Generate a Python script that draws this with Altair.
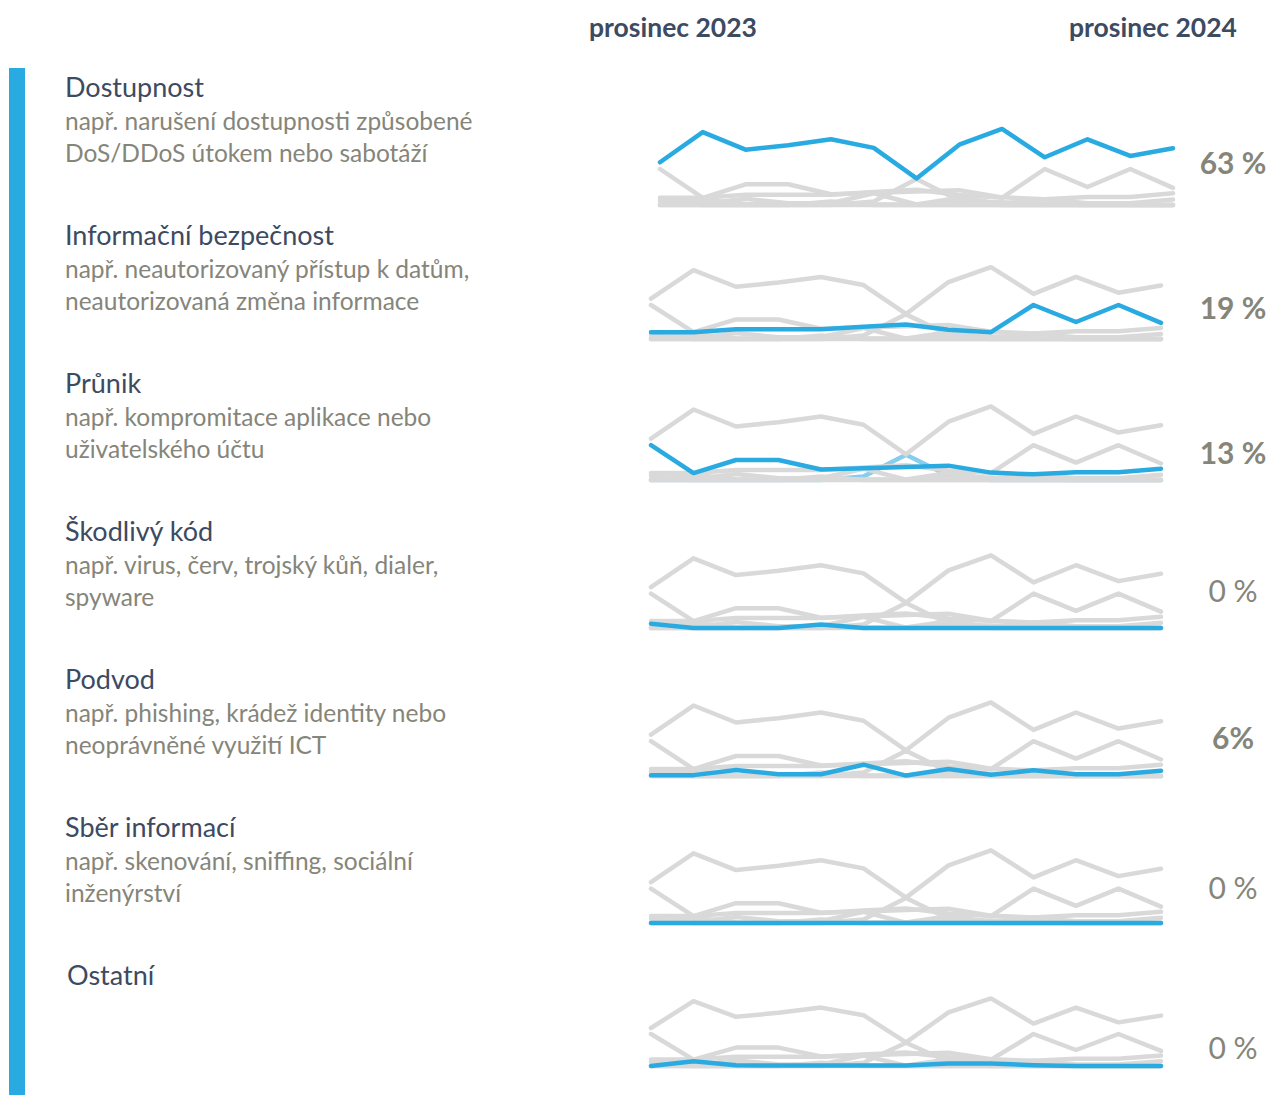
import altair as alt
import pandas as pd

# ---------------- data ----------------
months = ["prosinec 2023", "leden 2024", "únor 2024", "březen 2024", "duben 2024",
          "květen 2024", "červen 2024", "červenec 2024", "srpen 2024", "září 2024",
          "říjen 2024", "listopad 2024", "prosinec 2024"]

categories = ["Dostupnost", "Informační bezpečnost", "Průnik", "Škodlivý kód",
              "Podvod", "Sběr informací", "Ostatní"]

subtitles = [
    ["např. narušení dostupnosti způsobené", "DoS/DDoS útokem nebo sabotáží"],
    ["např. neautorizovaný přístup k datům,", "neautorizovaná změna informace"],
    ["např. kompromitace aplikace nebo", "uživatelského účtu"],
    ["např. virus, červ, trojský kůň, dialer,", "spyware"],
    ["např. phishing, krádež identity nebo", "neoprávněné využití ICT"],
    ["např. skenování, sniffing, sociální", "inženýrství"],
    [],
]

shares = ["63 %", "19 %", "13 %", "0 %", "6%", "0 %", "0 %"]
share_bold = [True, True, True, False, True, False, False]

dostupnost = [47.5, 81, 61.5, 66.5, 73, 63.5, 29.5, 67, 84.5, 53, 73, 54.5, 63]
informacni_bezpecnost = [8, 8, 11.5, 11.5, 11.5, 14.5, 17, 11, 8, 40, 20, 40, 19]
prunik = [40, 8, 23, 23, 12, 13.5, 15, 16.5, 8.5, 6.5, 9, 9, 13]
skodlivy_kod = [5, 0, 0, 0, 4, 0, 0, 0, 0, 0, 0, 0, 0]
podvod = [1, 1, 7, 2, 2, 13, 0.5, 8, 1.5, 6.5, 2, 2, 6]
sber_informaci = [0, 0, 0, 0, 0, 0, 0, 0, 0, 0, 0, 0, 0]
ostatni = [0, 6, 1, 0.5, 0.5, 0.5, 0.5, 3, 3, 1, 0, 0, 0]
nezarazeno = [0, 0, 0, 0, 0, 4, 29, 5, 0, 0, 0, 0, 0]

series_names = categories + ["(nezařazeno)"]
series_lists = [dostupnost, informacni_bezpecnost, prunik, skodlivy_kod,
                podvod, sber_informaci, ostatni, nezarazeno]

rows = []
for name, vals in zip(series_names, series_lists):
    for m, v in zip(months, vals):
        rows.append({"month": m, "series": name, "value": v})
df = pd.DataFrame(rows)

# ---------------- layout / style ----------------
W, H = 1271, 1095
FONT = "Lato"
BLUE = "#29ABE2"
LIGHT = "#86CDEE"
GRAY = "#D9D9D9"
TITLE_C = "#3C4A62"
SUB_C = "#85857A"

panel_x = [(660, 1173)] + [(651, 1161)] * 6
panel_base = [205, 339, 480, 628, 776, 923, 1066]
panel_h100 = [90, 85, 87, 86, 87, 86, 80]
label_y = [165, 310, 455, 593, 740, 890, 1050]

title_y0 = 97
row_pitch = 148

dummy = pd.DataFrame({"k": [0]})
layers = []

# left blue bar
layers.append(
    alt.Chart(dummy).mark_rect(color=BLUE).encode(
        x=alt.value(9), x2=alt.value(25), y=alt.value(68), y2=alt.value(H)
    )
)


def text_layer(txt, x, y, size, color, weight="normal", align="left",
               baseline="alphabetic", line_height=None):
    mk = dict(align=align, baseline=baseline, fontSize=size, font=FONT,
              color=color, fontWeight=weight)
    if line_height is not None:
        mk["lineHeight"] = line_height
    return alt.Chart(dummy).mark_text(**mk).encode(
        x=alt.value(x), y=alt.value(y), text=alt.value(txt)
    )


# column headers
layers.append(text_layer("prosinec 2023", 673, 37, 26.5, TITLE_C, "bold", "center"))
layers.append(text_layer("prosinec 2024", 1153, 37, 26.5, TITLE_C, "bold", "center"))

line_style = dict(strokeWidth=4.5, strokeCap="round", strokeJoin="round")

for i, cat in enumerate(categories):
    ty = title_y0 + i * row_pitch
    tx = 67 if i == 6 else 65
    layers.append(text_layer(cat, tx, ty, 27, TITLE_C))
    if subtitles[i]:
        layers.append(text_layer(subtitles[i], 65, ty + 33, 24.5, SUB_C, line_height=32))

    x0, x1 = panel_x[i]
    base = panel_base[i]
    h = panel_h100[i]
    X = alt.X("month:O", sort=months,
              scale=alt.Scale(type="point", domain=months, range=[x0, x1], padding=0),
              axis=None)
    Y = alt.Y("value:Q", scale=alt.Scale(domain=[0, 100], range=[base, base - h]),
              axis=None)

    if cat == "Průnik":
        layers.append(
            alt.Chart(df).transform_filter(alt.datum.series == "(nezařazeno)")
            .mark_line(color=LIGHT, **line_style)
            .encode(x=X, y=Y)
        )
        gray_filter = (alt.datum.series != cat) & (alt.datum.series != "(nezařazeno)")
    else:
        gray_filter = alt.datum.series != cat

    layers.append(
        alt.Chart(df).transform_filter(gray_filter)
        .mark_line(color=GRAY, **line_style)
        .encode(x=X, y=Y, detail="series:N")
    )
    layers.append(
        alt.Chart(df).transform_filter(alt.datum.series == cat)
        .mark_line(color=BLUE, **line_style)
        .encode(x=X, y=Y)
    )

    layers.append(
        text_layer(shares[i], 1233, label_y[i], 30, SUB_C,
                   "bold" if share_bold[i] else "normal", "center", "middle")
    )

chart = (
    alt.layer(*layers)
    .resolve_scale(x="independent", y="independent")
    .properties(width=W, height=H, padding=0,
                autosize=alt.AutoSizeParams(type="none"))
    .configure_view(stroke=None)
)

chart.save("out.html", embed_options={"renderer": "svg", "actions": False})
